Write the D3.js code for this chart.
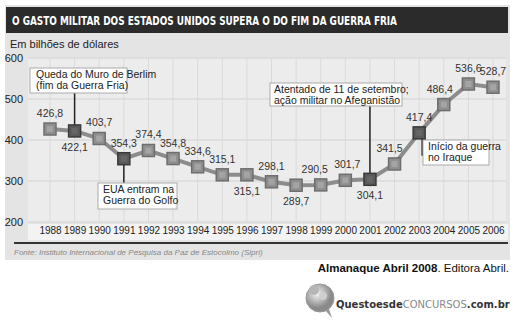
<!DOCTYPE html>
<html><head><meta charset="utf-8">
<script src="https://cdn.jsdelivr.net/npm/d3@7"></script>
<style>body{margin:0;background:#fff}svg{display:block}</style>
</head><body>
<svg id="c" width="519" height="330"></svg>
<script>
const years = ["1988","1989","1990","1991","1992","1993","1994","1995","1996","1997","1998","1999","2000","2001","2002","2003","2004","2005","2006"];
const values = [426.8,422.1,403.7,354.3,374.4,354.8,334.6,315.1,315.1,298.1,289.7,290.5,301.7,304.1,341.5,417.4,486.4,536.6,528.7];
const labelPos = ["a","b","a","a","a","a","a","a","b","a","b","a","a","b","a","a","a","a","a"];
const highlighted = ["1989","1991","2001","2003"];
const yTicks = [200,300,400,500,600];
const title = "O GASTO MILITAR DOS ESTADOS UNIDOS SUPERA O DO FIM DA GUERRA FRIA";
const subtitle = "Em bilhões de dólares";
const source = "Fonte: Instituto Internacional de Pesquisa da Paz de Estocolmo (Sipri)";
const events = [
  {year:"1989", lines:["Queda do Muro de Berlim","(fim da Guerra Fria)"]},
  {year:"1991", lines:["EUA entram na","Guerra do Golfo"]},
  {year:"2001", lines:["Atentado de 11 de setembro;","ação militar no Afeganistão"]},
  {year:"2003", lines:["Início da guerra","no Iraque"]}
];

const svg = d3.select("#c");
const F = "'Liberation Sans', Arial, sans-serif";
const fmt = v => d3.format(".1f")(v).replace(".", ",");

// panel
svg.append("rect").attr("x",5).attr("y",5).attr("width",505).attr("height",255).attr("fill","#e4e4e4");
// title bar
svg.append("rect").attr("x",6).attr("y",7).attr("width",502).attr("height",26).attr("fill","#2b2b2b");
svg.append("text").attr("x",12).attr("y",25).attr("fill","#fff")
  .attr("font-family","'DejaVu Sans Condensed','Liberation Sans Narrow',sans-serif").attr("font-weight","bold")
  .attr("font-size",13).attr("textLength",385).attr("lengthAdjust","spacingAndGlyphs").text(title);
svg.append("text").attr("x",10).attr("y",48).attr("font-family",F).attr("font-size",11).attr("fill","#222").text(subtitle);

const x = d3.scalePoint().domain(years).range([50,493]);
const y = d3.scaleLinear().domain([200,600]).range([222,58]);

// plot area
svg.append("rect").attr("x",28).attr("y",58).attr("width",478).attr("height",164).attr("fill","#ececec");
svg.append("rect").attr("x",28).attr("y",224).attr("width",480).attr("height",16).attr("fill","#f3f3f3");

// grid
svg.append("g").selectAll("line").data(yTicks).join("line")
  .attr("x1",28).attr("x2",506).attr("y1",d=>y(d)).attr("y2",d=>y(d))
  .attr("stroke","#d2d2d2").attr("stroke-width",1);
svg.append("g").selectAll("line").data(years).join("line")
  .attr("x1",d=>x(d)).attr("x2",d=>x(d)).attr("y1",58).attr("y2",222)
  .attr("stroke","#dadada").attr("stroke-width",1);

// y axis labels
const yAxis = d3.axisLeft(y).tickValues(yTicks).tickSize(0).tickPadding(0);
const ya = svg.append("g").attr("transform","translate(23,0)").call(yAxis);
ya.select(".domain").remove();
ya.selectAll("text").attr("font-family",F).attr("font-size",11).attr("fill","#222");

// x axis labels
const xAxis = d3.axisBottom(x).tickSize(0).tickPadding(0);
const xa = svg.append("g").attr("transform","translate(0,227)").call(xAxis);
xa.select(".domain").remove();
xa.selectAll("text").attr("font-family",F).attr("font-size",10).attr("fill","#222");

// bottom rule and source
svg.append("line").attr("x1",14).attr("x2",508).attr("y1",243).attr("y2",243).attr("stroke","#333").attr("stroke-width",2);
svg.append("text").attr("x",14).attr("y",255).attr("font-family",F).attr("font-style","italic")
  .attr("font-size",8).attr("fill","#888").text(source);

// annotation boxes
const boxes = [
  {x:30,y:68,w:97,h:25,tx:36},
  {x:98,y:183,w:79,h:26,tx:103},
  {x:270,y:83,w:132,h:23,tx:274},
  {x:423,y:140,w:66,h:25,tx:428}
];
events.forEach((e,i)=>{
  const b = boxes[i];
  const mx = x(e.year), my = y(values[years.indexOf(e.year)]);
  if (e.year==="2003") {
    svg.append("path").attr("d",`M${mx+3},${my} V${b.y+15} H${b.x}`).attr("fill","none").attr("stroke","#222").attr("stroke-width",1.5);
  } else if (b.y>my) {
    svg.append("line").attr("x1",mx).attr("x2",mx).attr("y1",my).attr("y2",b.y).attr("stroke","#222").attr("stroke-width",1.5);
  } else {
    svg.append("line").attr("x1",mx).attr("x2",mx).attr("y1",b.y+b.h).attr("y2",my).attr("stroke","#222").attr("stroke-width",1.5);
  }
  svg.append("rect").attr("x",b.x).attr("y",b.y).attr("width",b.w).attr("height",b.h)
    .attr("fill","#fff").attr("stroke","#aaa").attr("stroke-width",1);
  e.lines.forEach((l,j)=>svg.append("text").attr("x",b.tx).attr("y",b.y+10+j*11)
    .attr("font-family",F).attr("font-size",10.5).attr("fill","#222").text(l));
});

// line
const line = d3.line().x((d,i)=>x(years[i])).y(d=>y(d));
svg.append("path").datum(values).attr("d",line).attr("fill","none").attr("stroke","#8c8c8c").attr("stroke-width",4);

// markers
svg.append("g").selectAll("rect").data(values).join("rect")
  .attr("x",(d,i)=>x(years[i])-6).attr("y",d=>y(d)-6).attr("width",12).attr("height",12)
  .attr("fill",(d,i)=>highlighted.includes(years[i])?"#5a5a5a":"#8f8f8f")
  .attr("stroke",(d,i)=>highlighted.includes(years[i])?"#3a3a3a":"#6e6e6e").attr("stroke-width",1.5);
svg.append("g").selectAll("rect").data(values).join("rect")
  .attr("x",(d,i)=>x(years[i])-3).attr("y",d=>y(d)-3).attr("width",6).attr("height",6)
  .attr("fill",(d,i)=>highlighted.includes(years[i])?"#666":"#a4a4a4");

// value labels
const dx = {"1999":-6,"2002":-5,"2004":-4,"2000":2};
svg.append("g").selectAll("text").data(values).join("text")
  .attr("x",(d,i)=>x(years[i])+(dx[years[i]]||0))
  .attr("y",(d,i)=>y(d)+(labelPos[i]==="a"?-12:20))
  .attr("text-anchor","middle").attr("font-family",F).attr("font-size",10.5).attr("fill","#333")
  .text(d=>fmt(d));

// credit
const cr = svg.append("text").attr("x",509).attr("y",272).attr("text-anchor","end").attr("font-family",F).attr("font-size",11.5).attr("fill","#111");
cr.append("tspan").attr("font-weight","bold").text("Almanaque Abril 2008");
cr.append("tspan").text(". Editora Abril.");

// logo
const g = svg.append("g");
const grad = svg.append("defs").append("radialGradient").attr("id","lg").attr("cx","40%").attr("cy","35%");
grad.append("stop").attr("offset","0%").attr("stop-color","#f4f4f4");
grad.append("stop").attr("offset","100%").attr("stop-color","#8a8a8a");
g.append("path").attr("d","M325,310 L332,318 L328,306 Z").attr("fill","#999");
g.append("circle").attr("cx",320).attr("cy",298).attr("r",14).attr("fill","url(#lg)").attr("stroke","#999");
g.append("circle").attr("cx",314).attr("cy",290).attr("r",5).attr("fill","#b5b5b5");
g.append("circle").attr("cx",323).attr("cy",296).attr("r",4).attr("fill","#cfcfcf");
const lt = svg.append("text").attr("x",336).attr("y",308).attr("font-family","'DejaVu Sans',sans-serif").attr("font-size",10)
  .attr("font-weight","bold").attr("fill","#333");
lt.append("tspan").text("Questoesde");
lt.append("tspan").attr("fill","#888").attr("font-weight","normal").text("CONCURSOS");
lt.append("tspan").text(".com.br");
</script>
</body></html>
